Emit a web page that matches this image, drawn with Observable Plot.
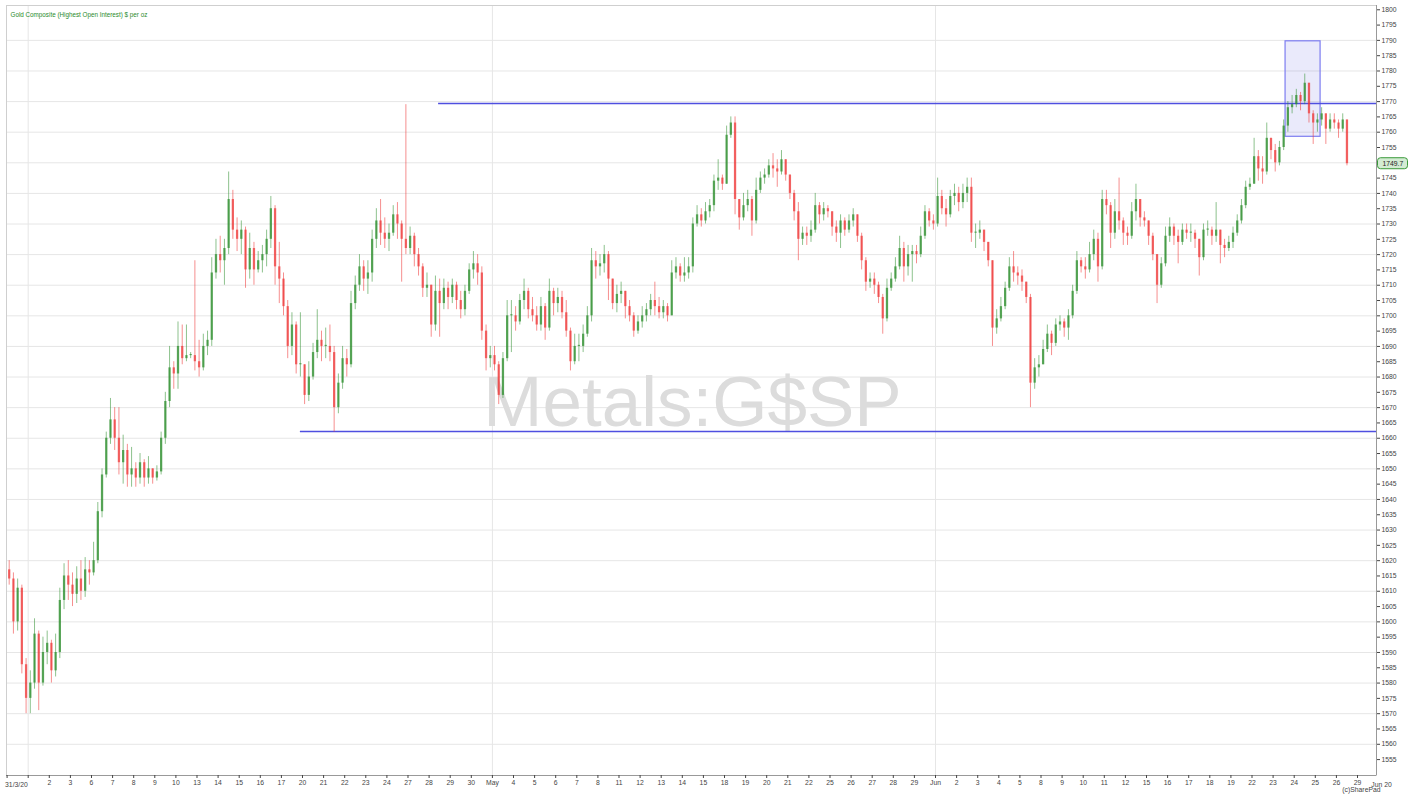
<!DOCTYPE html>
<html><head><meta charset="utf-8">
<script src="https://cdn.jsdelivr.net/npm/d3@7"></script>
<script src="https://cdn.jsdelivr.net/npm/@observablehq/plot@0.6"></script>
<style>body{margin:0;background:#fff;} svg{display:block}</style>
</head><body><div id="chart"></div>
<script>
// Trading-day tick labels (index 0 = 31 Mar 2020); Apr 1 has a tick but no label
const dayLabels = ["31/3/20","","2","3","6","7","8","9","10","13","14","15","16","17","20","21","22","23","24","27","28","29","30","May","4","5","6","7","8","11","12","13","14","15","18","19","20","21","22","25","26","27","28","29","Jun","2","3","4","5","8","9","10","11","12","15","16","17","18","19","22","23","24","25","26","29"];
const endLabel = {label: "Jun 20", day: 65.14};
const monthStarts = [1, 23, 44];
const yTicks = d3.range(1555, 1801, 5);
const yGrid = d3.range(1560, 1791, 10);

// Price data: 5 candles per trading day (open = previous close)
const firstOpen = 1617;
const closes = [
[1614,1600,1611,1586,1575],[1580,1596,1580,1590,1593],[1584,1590,1607,1615,1612],[1609,1614,1610,1617,1616],
[1620,1636,1648,1660,1666],[1660,1652,1656,1648,1650],[1647,1652,1647,1650,1647],[1649,1660,1672,1683,1681],
[1690,1686,1687,1687,1685],[1683,1690,1692,1714,1720],[1718,1722,1738,1728,1725],[1728,1715,1722,1715,1718],
[1720,1725,1735,1716,1712],[1703,1690,1697,1684,1684],[1674,1680,1688,1692,1690],[1690,1688,1670,1678,1686],
[1684,1704,1710,1716,1712],[1714,1725,1731,1727,1725],[1727,1733,1730,1725,1722],[1726,1720,1716,1709,1710],
[1697,1708,1704,1709,1706],[1710,1705,1702,1708,1715],[1717,1714,1695,1686,1687],[1684,1674,1686,1700,1700],
[1698,1705,1708,1702,1700],[1697,1703,1696,1708,1704],[1706,1701,1695,1685,1690],[1690,1694,1700,1718,1716],
[1717,1720,1712,1704,1707],[1708,1703,1700,1695,1698],[1700,1702,1705,1703,1701],[1703,1700,1714,1716,1713],
[1714,1716,1730,1733,1731],[1734,1736,1744,1745,1743],[1759,1763,1738,1732,1736],[1738,1731,1741,1745,1746],
[1749,1748,1747,1751,1746],[1740,1734,1725,1727,1726],[1728,1736,1733,1735,1734],[1729,1727,1731,1728,1731],
[1733,1726,1718,1711,1712],[1710,1706,1699,1709,1712],[1716,1722,1716,1720,1721],[1720,1726,1734,1731,1730],
[1739,1735,1733,1739,1740],[1737,1740,1742,1727,1727],[1728,1724,1718,1696,1699],[1703,1709,1716,1714,1713],
[1711,1706,1678,1683,1684],[1689,1694,1691,1697,1698],[1696,1700,1708,1718,1716],[1715,1720,1725,1716,1738],
[1736,1727,1734,1731,1727],[1726,1734,1738,1732,1731],[1726,1720,1710,1717,1726],[1729,1726,1724,1728,1727],
[1727,1725,1719,1728,1728],[1726,1728,1723,1722,1724],[1727,1731,1736,1742,1743],[1752,1748,1747,1758,1754],
[1750,1755,1762,1768,1769],[1772,1770,1776,1766,1763],[1764,1766,1761,1764,1763],[1761,1764,1749.7]
];
const highs = [
[1620,1616,1614,1612,1588],[1584,1601,1597,1595,1597],[1594,1596,1611,1619,1620],[1616,1618,1620,1621,1620],
[1626,1639,1650,1662,1673],[1670,1670,1661,1658,1657],[1652,1655,1653,1654,1650],[1651,1662,1675,1690,1685],
[1698,1697,1697,1688,1718],[1692,1694,1695,1719,1725],[1726,1725,1747,1741,1732],[1731,1729,1727,1724,1721],
[1723,1728,1739,1736,1724],[1714,1705,1701,1698,1701],[1684,1685,1691,1702,1695],[1696,1697,1690,1681,1690],
[1689,1708,1713,1720,1718],[1718,1728,1735,1738,1732],[1730,1736,1737,1731,1769],[1729,1727,1722,1717,1714],
[1710,1713,1712,1712,1711],[1712,1711,1708,1710,1717],[1721,1720,1716,1697,1690],[1690,1685,1688,1705,1705],
[1703,1707,1712,1709,1706],[1703,1706,1704,1712,1709],[1709,1708,1705,1696,1694],[1694,1697,1703,1722,1721],
[1720,1723,1721,1712,1710],[1711,1708,1705,1701,1700],[1703,1704,1707,1711,1706],[1705,1704,1718,1719,1717],
[1719,1719,1732,1736,1735],[1737,1738,1746,1751,1746],[1762,1765,1765,1738,1740],[1741,1739,1745,1747,1748],
[1751,1753,1751,1754,1751],[1746,1741,1737,1729,1729],[1731,1740,1737,1737,1736],[1734,1731,1733,1732,1733],
[1735,1733,1727,1719,1714],[1714,1711,1707,1712,1714],[1719,1726,1724,1723,1723],[1723,1729,1736,1735,1733],
[1745,1741,1738,1741,1743],[1742,1743,1745,1745,1730],[1731,1728,1724,1718,1702],[1706,1711,1719,1721,1716],
[1715,1711,1707,1686,1687],[1692,1697,1695,1699,1700],[1699,1702,1710,1721,1719],[1719,1724,1728,1727,1741],
[1741,1737,1738,1745,1732],[1729,1737,1743,1737,1734],[1730,1727,1720,1719,1729],[1732,1730,1728,1730,1730],
[1730,1728,1724,1730,1731],[1729,1737,1727,1725,1726],[1729,1733,1738,1744,1745],[1758,1754,1752,1763,1758],
[1756,1757,1764,1770,1772],[1774,1773,1779,1776,1767],[1766,1768,1766,1766,1766],[1764,1766,1764]
];
const lows = [
[1612,1596,1597,1583,1570],[1570,1578,1571,1579,1586],[1580,1582,1588,1604,1607],[1605,1606,1607,1608,1612],
[1615,1619,1634,1647,1658],[1656,1648,1645,1644,1644],[1644,1645,1644,1645,1645],[1646,1648,1658,1670,1676],
[1676,1684,1685,1686,1682],[1680,1682,1687,1690,1712],[1714,1710,1720,1725,1721],[1720,1709,1712,1710,1714],
[1714,1716,1722,1710,1704],[1700,1686,1687,1681,1680],[1671,1672,1679,1686,1685],[1686,1685,1662,1668,1676],
[1680,1683,1702,1708,1708],[1707,1711,1722,1723,1722],[1721,1726,1725,1711,1720],[1720,1716,1713,1706,1706],
[1693,1695,1693,1702,1702],[1704,1702,1699,1700,1707],[1712,1710,1692,1682,1683],[1682,1671,1673,1685,1688],
[1695,1697,1702,1699,1698],[1695,1695,1692,1695,1700],[1701,1699,1693,1682,1684],[1685,1688,1693,1698,1712],
[1713,1714,1705,1702,1701],[1704,1699,1698,1693,1694],[1696,1698,1700,1700,1699],[1699,1698,1700,1712,1711],
[1711,1712,1714,1729,1729],[1730,1732,1734,1741,1741],[1754,1758,1733,1728,1731],[1734,1726,1730,1740,1743],
[1745,1745,1742,1746,1744],[1738,1731,1718,1723,1723],[1724,1727,1730,1731,1732],[1726,1724,1722,1726,1727],
[1729,1724,1715,1708,1709],[1707,1704,1694,1698,1708],[1711,1715,1711,1713,1711],[1717,1719,1725,1729,1728],
[1729,1733,1729,1732,1736],[1734,1735,1737,1724,1722],[1725,1721,1716,1690,1694],[1698,1702,1708,1711,1710],
[1708,1704,1670,1676,1680],[1684,1688,1687,1690,1695],[1693,1692,1699,1707,1714],[1712,1714,1718,1711,1715],
[1733,1722,1725,1728,1723],[1723,1725,1731,1729,1729],[1723,1718,1704,1709,1716],[1724,1723,1717,1723,1725],
[1724,1722,1713,1718,1726],[1723,1724,1717,1719,1721],[1722,1726,1730,1735,1741],[1743,1744,1743,1746,1751],
[1747,1749,1754,1760,1766],[1768,1767,1769,1763,1756],[1760,1762,1756,1760,1761],[1758,1760,1749]
];

// Drawn annotations (price levels and highlighted zone, in day/price units)
const levelLines = [{price: 1769.4, fromDay: 20.45}, {price: 1662.2, fromDay: 13.9}];
const zones = [{day1: 60.59, day2: 62.25, low: 1758.5, high: 1789.7}];

const titleText = "Gold Composite (Highest Open Interest) $ per oz";
const watermark = "Metals:G$SP";
const credit = "(c)SharePad";

const SLOTS = 5;
const xMin = -0.028, xMax = 64.9;
const yMin = 1549.8, yMax = 1801.4;

const candles = [];
let prev = firstOpen;
closes.forEach((row, d) => row.forEach((c, k) => {
  const o = prev;
  candles.push({
    t: d + (k + 0.5) / SLOTS, open: o, close: c,
    high: Math.max(highs[d][k], o, c), low: Math.min(lows[d][k], o, c), up: c >= o
  });
  prev = c;
}));
const last = candles[candles.length - 1];
const up = candles.filter(d => d.up), down = candles.filter(d => !d.up);
const GREEN = "#2f8f2f", RED = "#ee3333";
const bodyEnd = d => (Math.abs(d.close - d.open) < 0.35 ? d.open + 0.35 : d.close);

const tickIdx = d3.range(0, dayLabels.length);
const labelIdx = tickIdx.filter(i => i >= 2);
const FONT = 6.8;
// the y label hidden behind the last-price badge
const yLabel = v => (Math.abs(v - last.close) < 2.5 ? "" : String(v));

const chart = Plot.plot({
  width: 1418, height: 798,
  marginLeft: 6, marginRight: 42, marginTop: 5, marginBottom: 23,
  style: {fontFamily: "'Liberation Sans', Arial, sans-serif", background: "#fff", color: "#444"},
  x: {type: "linear", domain: [xMin, xMax]},
  y: {type: "linear", domain: [yMin, yMax]},
  marks: [
    Plot.gridY(yGrid, {stroke: "#e6e6e6", strokeOpacity: 1}),
    Plot.gridX(monthStarts, {stroke: "#e6e6e6", strokeOpacity: 1}),
    Plot.frame({stroke: "#cfcfcf"}),
    Plot.text([watermark], {frameAnchor: "middle", dx: 1, dy: 13, fontSize: 71, fill: "#dcdcdc"}),
    Plot.text([titleText], {frameAnchor: "top-left", dx: 4, dy: 9, lineAnchor: "middle", fontSize: 6.3, fill: "#2a8a2a"}),
    Plot.rect(zones, {x1: "day1", x2: "day2", y1: "low", y2: "high", fill: "#6b6be6", fillOpacity: 0.14, stroke: "#7d7df0", strokeWidth: 1.2}),
    Plot.ruleY(levelLines, {y: "price", x1: "fromDay", x2: () => xMax, stroke: "#4f4fe0", strokeWidth: 1.4}),
    // wicks
    Plot.ruleX(up, {x: "t", y1: "low", y2: "high", stroke: GREEN, strokeOpacity: 0.55, strokeWidth: 1}),
    Plot.ruleX(down, {x: "t", y1: "low", y2: "high", stroke: RED, strokeOpacity: 0.55, strokeWidth: 1}),
    // bodies
    Plot.ruleX(up, {x: "t", y1: "open", y2: bodyEnd, stroke: GREEN, strokeOpacity: 0.75, strokeWidth: 2.3}),
    Plot.ruleX(down, {x: "t", y1: "open", y2: bodyEnd, stroke: RED, strokeOpacity: 0.7, strokeWidth: 2.3}),
    // axis lines
    Plot.ruleX([xMax], {stroke: "#999"}),
    Plot.ruleY([yMin], {stroke: "#999"}),
    Plot.axisY({anchor: "right", ticks: yTicks, tickFormat: yLabel, tickSize: 3, tickPadding: 2, fontSize: FONT, label: null}),
    Plot.axisX({ticks: labelIdx, tickFormat: i => dayLabels[i], tickSize: 3, tickPadding: 2, fontSize: FONT, label: null}),
    Plot.axisX({ticks: [0, 1], tickFormat: () => "", tickSize: 3, label: null}),
    Plot.text([{label: dayLabels[0], day: 0}], {x: "day", y: () => yMin, text: "label", dx: -2, dy: 9, textAnchor: "start", fontSize: FONT, fill: "#444", clip: false}),
    Plot.text([endLabel], {x: "day", y: () => yMin, text: "label", dy: 9, fontSize: FONT, fill: "#444", clip: false}),
    Plot.text([credit], {frameAnchor: "bottom-right", dx: 4, dy: 14, lineAnchor: "middle", fontSize: FONT, fill: "#444"}),
    Plot.text([last], {y: "close", frameAnchor: "right", dx: 6, textAnchor: "start", text: d => d3.format(".1f")(d.close), fontSize: FONT, fill: "#222", ariaLabel: () => "last-price"})
  ]
});
document.getElementById("chart").appendChild(chart);

// badge behind the last-price label, placed through the chart's own y scale
const yPix = chart.scale("y").apply(last.close);
const NS = "http://www.w3.org/2000/svg";
const badge = document.createElementNS(NS, "rect");
badge.setAttribute("x", 1377.5); badge.setAttribute("y", yPix - 5.5);
badge.setAttribute("width", 30); badge.setAttribute("height", 11);
badge.setAttribute("rx", 3); badge.setAttribute("fill", "#d3ebd3"); badge.setAttribute("stroke", "#3a9a3a");
const lpText = chart.querySelector('[aria-label="last-price"]');
const lpGroup = lpText ? (lpText.tagName.toLowerCase() === "g" ? lpText : lpText.closest("g")) : null;
if (lpGroup && lpGroup.parentNode) {
  lpGroup.parentNode.insertBefore(badge, lpGroup);
} else {
  const groups = chart.querySelectorAll(":scope > g");
  const g = groups[groups.length - 1];
  chart.insertBefore(badge, g);
}
</script>
</body></html>
